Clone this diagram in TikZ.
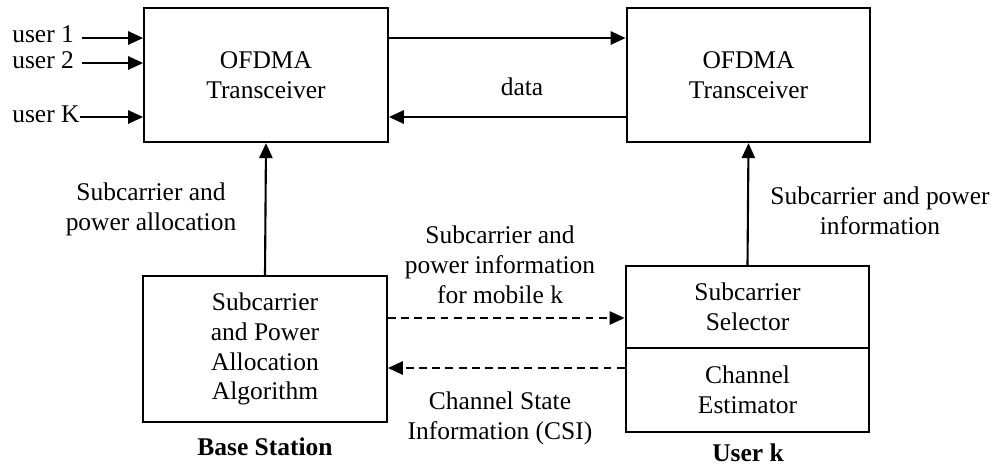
\documentclass[tikz,border=0pt]{standalone}
\usepackage{fontspec}
\setmainfont{Liberation Serif}
\usetikzlibrary{arrows.meta}

\begin{document}
\begin{tikzpicture}[x=0.02cm,y=-0.02cm,
        >={Triangle[length=8.5pt,width=7.5pt]},
        every node/.style={font=\fontsize{14.5}{17}\selectfont},
        block/.style={draw,line width=1.3pt,align=center,minimum width=4.87cm,inner sep=0pt},
        flow/.style={line width=1.2pt,->},
        dashflow/.style={flow,dash pattern=on 4.5pt off 3pt},
        caption/.style={font=\fontsize{14.5}{17}\selectfont\bfseries}]
    \useasboundingbox (0,0) rectangle (1000,468);

    % transceivers
    \node[block,minimum height=2.68cm] (bsTx) at (266,75) {OFDMA\\Transceiver};
    \node[block,minimum height=2.68cm] (msTx) at (748.5,75) {OFDMA\\Transceiver};

    % allocation and user side
    \node[block,minimum height=2.92cm] (alloc) at (265,349) {Subcarrier\\and Power\\Allocation\\Algorithm};
    \node[block,minimum height=1.64cm] (selector) at (747.5,307) {Subcarrier\\Selector};
    \node[block,minimum height=1.68cm] (estimator) at (747.5,390) {Channel\\Estimator};

    % user inputs
    \node[anchor=base west,inner sep=0pt] (u1) at (12,42) {user 1};
    \node[anchor=base west,inner sep=0pt] (u2) at (12,68) {user 2};
    \node[anchor=base west,inner sep=0pt] (uK) at (12,122) {user K};
    \coordinate (a1) at (82,38);
    \coordinate (a2) at (82,63);
    \coordinate (aK) at (80,117);
    \foreach \a in {a1,a2,aK}
        \draw[flow] (\a) -- (\a -| bsTx.west);

    % data link
    \draw[flow] (a1 -| bsTx.east) -- (a1 -| msTx.west);
    \draw[flow] (aK -| msTx.west) -- (aK -| bsTx.east);
    \node (data) at (522,87) {data};

    % control paths
    \draw[flow] (alloc.north) -- (bsTx.south);
    \draw[flow] (selector.north) -- (msTx.south);
    \node[align=center] (allocinfo) at (151,209) {Subcarrier and\\power allocation};
    \node[align=center] (userinfo) at (880,211) {Subcarrier and power\\information};

    % feedback between base station and user
    \coordinate (d1) at ([yshift=0.62cm]alloc.east);
    \coordinate (d2) at ([yshift=-0.38cm]alloc.east);
    \draw[dashflow] (d1) -- (d1 -| selector.west);
    \draw[dashflow] (d2 -| estimator.west) -- (d2);
    \node[align=center] (mobinfo) at (500,265) {Subcarrier and\\power information\\for mobile k};
    \node[align=center] (csi) at (500,418) {Channel State\\Information (CSI)};

    \node[caption] (bs) at (265,447) {Base Station};
    \node[caption] (uk) at (748,453) {User k};
\end{tikzpicture}
\end{document}
